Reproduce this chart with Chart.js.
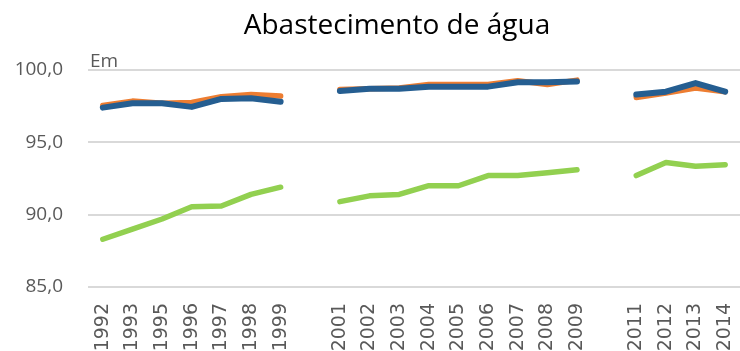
<!DOCTYPE html>
<html>
<head>
<meta charset="utf-8">
<script src="https://cdn.jsdelivr.net/npm/chart.js@4"></script>
<style>
  html, body { margin: 0; padding: 0; background: #fff; overflow: hidden; }
  #wrap { width: 740px; height: 351px; position: relative; }
</style>
</head>
<body>
<div id="wrap"><canvas id="chart"></canvas></div>
<script>
// Years of the survey; empty slots keep the gaps for 2000 and 2010
const years = ['1992', '1993', '1995', '1996', '1997', '1998', '1999', '',
  '2001', '2002', '2003', '2004', '2005', '2006', '2007', '2008', '2009', '',
  '2011', '2012', '2013', '2014'];

const seriesBlue = [97.4, 97.7, 97.7, 97.45, 98.0, 98.05, 97.8, null,
  98.55, 98.7, 98.7, 98.85, 98.85, 98.85, 99.15, 99.15, 99.2, null,
  98.3, 98.5, 99.1, 98.5];

const seriesOrange = [97.55, 97.85, 97.7, 97.75, 98.15, 98.3, 98.2, null,
  98.65, 98.7, 98.75, 99.0, 99.0, 99.0, 99.25, 99.0, 99.3, null,
  98.1, 98.4, 98.75, 98.5];

const seriesGreen = [88.3, 89.0, 89.7, 90.55, 90.6, 91.4, 91.9, null,
  90.9, 91.3, 91.4, 92.0, 92.0, 92.7, 92.7, 92.9, 93.1, null,
  92.7, 93.6, 93.35, 93.45];

const yTicks = [85, 90, 95, 100];

const FONT = "'Open Sans', sans-serif";
const GREY = '#595959';

function lineSet(label, data, color, width) {
  return {
    label, data,
    borderColor: color,
    backgroundColor: color,
    borderWidth: width,
    borderCapStyle: 'round',
    borderJoinStyle: 'round',
    pointRadius: 0,
    tension: 0,
    spanGaps: false,
  };
}

// Title and the small "Em" caption above the top gridline
const captions = {
  id: 'captions',
  afterDraw(chart) {
    const { ctx, chartArea } = chart;
    ctx.save();
    ctx.fillStyle = '#000';
    ctx.font = `28px ${FONT}`;
    ctx.textAlign = 'center';
    ctx.textBaseline = 'alphabetic';
    ctx.fillText('Abastecimento de água', 397, 34);
    ctx.fillStyle = GREY;
    ctx.font = `19px ${FONT}`;
    ctx.textAlign = 'left';
    ctx.fillText('Em', chartArea.left + 2, chartArea.top - 3);
    ctx.restore();
  }
};

new Chart(document.getElementById('chart'), {
  type: 'line',
  data: {
    labels: years,
    datasets: [
      lineSet('Total', seriesBlue, '#255E91', 6),
      lineSet('Urbano', seriesOrange, '#ED7D31', 5.5),
      lineSet('Rural', seriesGreen, '#92D050', 5.5),
    ]
  },
  options: {
    responsive: true,
    maintainAspectRatio: false,
    animation: false,
    layout: { padding: { top: 70, left: 10, right: 0, bottom: 0 } },
    plugins: {
      legend: { display: false },
      title: { display: false },
      tooltip: { enabled: false },
    },
    scales: {
      x: {
        offset: true,
        grid: { display: false },
        border: { display: false },
        ticks: {
          color: GREY,
          font: { family: 'DejaVu Sans', size: 19 },
          minRotation: 90,
          maxRotation: 90,
          autoSkip: false,
          padding: 8,
        },
        afterFit(scale) {
          scale.height = 64;
          scale.paddingLeft = 0;
          scale.paddingRight = 0;
        },
      },
      y: {
        min: 85,
        max: 100,
        afterBuildTicks(scale) { scale.ticks = yTicks.map(v => ({ value: v })); },
        afterFit(scale) { scale.width = 78; },
        grid: { color: '#d9d9d9', lineWidth: 2, drawTicks: false },
        border: { display: false },
        ticks: {
          color: GREY,
          font: { family: FONT, size: 19 },
          padding: 25,
          callback: v => v.toFixed(1).replace('.', ','),
        },
      }
    }
  },
  plugins: [captions]
});
</script>
</body>
</html>
